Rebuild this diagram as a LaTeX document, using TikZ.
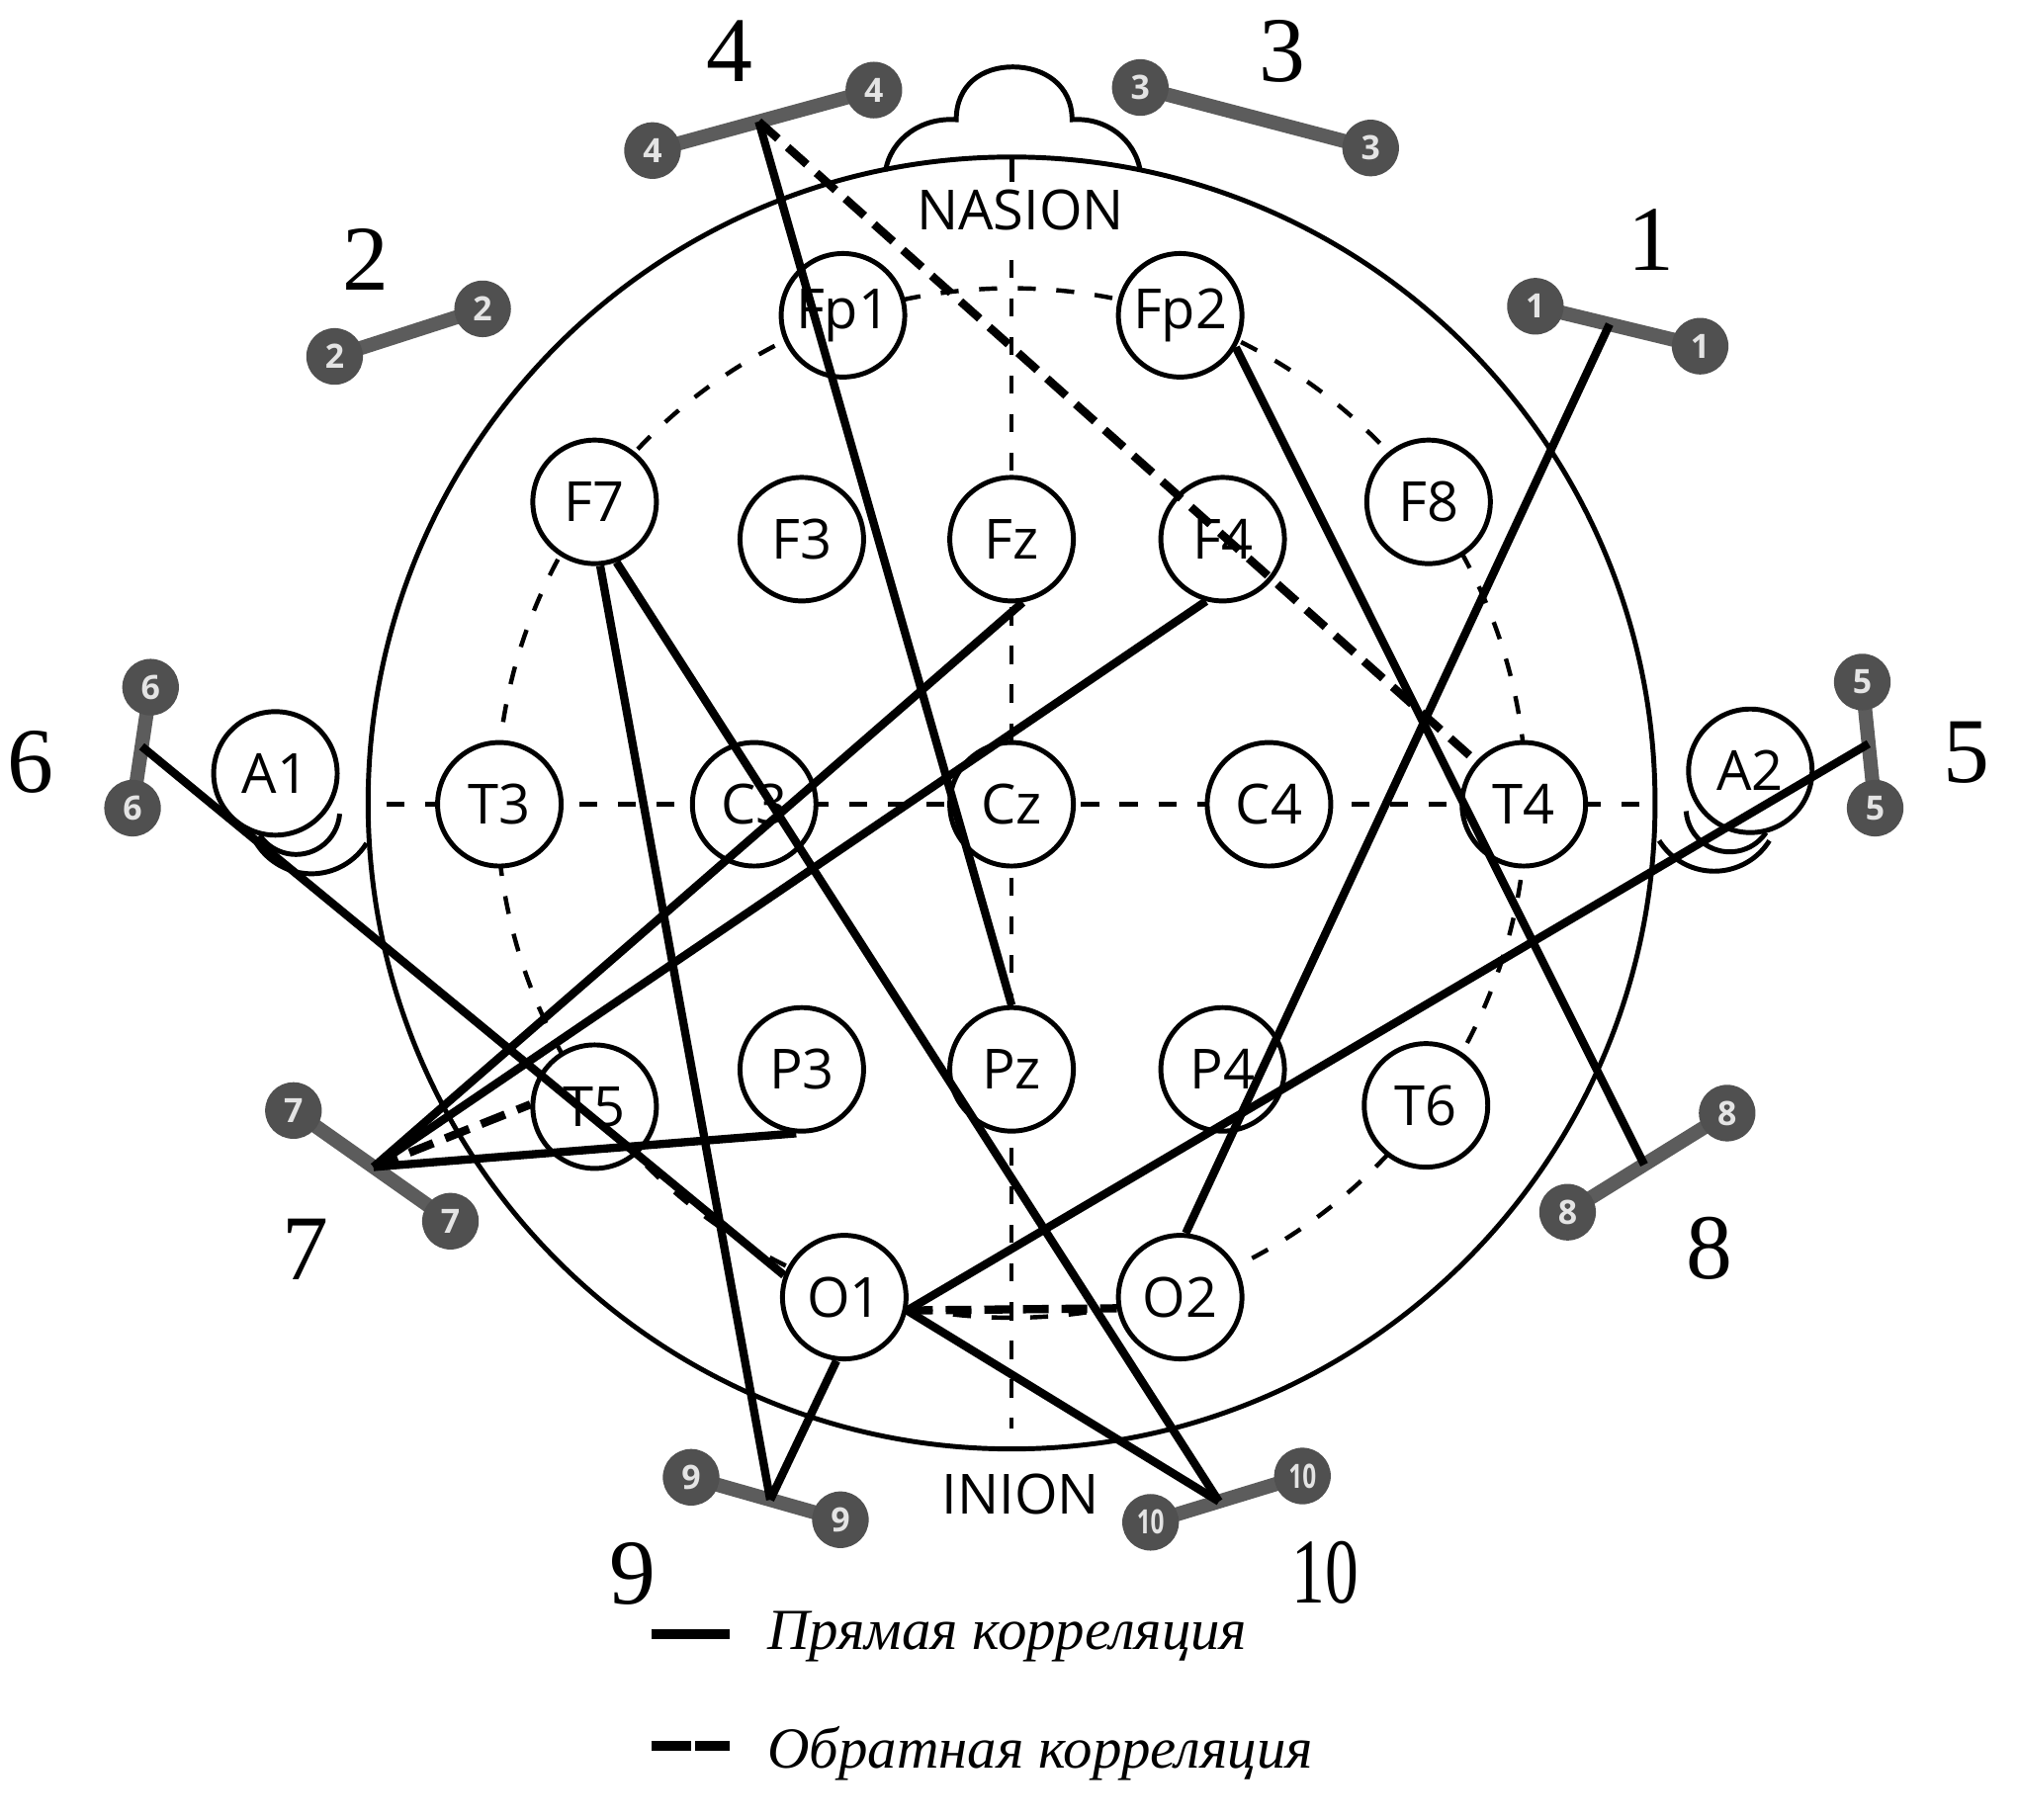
\documentclass[tikz,border=0pt]{standalone}
\usepackage{fontspec}
\setmainfont{Liberation Serif}
\newfontfamily\elfont{Open Sans}
\usetikzlibrary{calc}
\definecolor{ballgray}{HTML}{505050}
\definecolor{bargray}{HTML}{5C5C5C}
\definecolor{digitgray}{HTML}{E4E4E4}
\newcommand{\sensorpair}[6]{%
  \coordinate (#1a) at #2;
  \coordinate (#1b) at #3;
  \draw[sensorbar] (#1a) -- (#1b);
  \node[ball] (#1ba) at (#1a) {#4};
  \node[ball] (#1bb) at (#1b) {#4};
  \coordinate (#1) at ($(#1a)!#5!(#1b)$);
  \node[senslabel] (#1n) at #6 {#4};
}
\begin{document}
\begin{tikzpicture}[x=0.5pt,y=-0.5pt,
  electrode/.style={circle,draw,line width=1.9pt,fill=white,minimum size=48pt,inner sep=0pt,font=\elfont\fontsize{21.5}{21.5}\selectfont},
  headline/.style={line width=1.9pt},
  gridline/.style={line width=1.7pt,dash pattern=on 7pt off 8pt},
  poscor/.style={line width=3.2pt},
  negcor/.style={line width=3.2pt,dash pattern=on 10pt off 5pt},
  ball/.style={circle,fill=ballgray,minimum size=22pt,inner sep=0pt,text=digitgray,font=\elfont\bfseries\fontsize{13}{13}\selectfont},
  sensorbar/.style={draw=bargray,line width=5.5pt},
  senslabel/.style={font=\fontsize{36}{36}\selectfont,inner sep=0pt},
  landmark/.style={font=\elfont\fontsize{21.5}{21.5}\selectfont,inner sep=0pt},
  legendtext/.style={font=\itshape\fontsize{22.6}{22.6}\selectfont,anchor=west,inner sep=0pt}
]
\useasboundingbox (0,0) rectangle (1568,1414);
\fill[white] (0,0) rectangle (1568,1414);

% head outline
\coordinate (hc) at (786,624);
\draw[headline] (hc) circle [x radius=500, y radius=502];
% nose
\draw[headline] (688,133) .. controls (692,108) and (716,91) .. (743,93)
  .. controls (743,66) and (763,52) .. (787,52)
  .. controls (811,52) and (833,66) .. (833,93)
  .. controls (859,91) and (882,108) .. (886,133);
\draw[headline] (786,121) -- (786,141);
% ears
\draw[headline] (230,630) ++(146:34) arc[start angle=146,end angle=4,radius=34];
\draw[headline] (242,628.5) ++(148:50.5) arc[start angle=148,end angle=32,radius=50.5];
\draw[headline] (1344,628) ++(34:34) arc[start angle=34,end angle=176,radius=34];
\draw[headline] (1332,626.5) ++(32:50.5) arc[start angle=32,end angle=148,radius=50.5];

% 10-20 grid
\draw[gridline] (hc) circle [radius=400];
\draw[gridline] (786,202) -- (786,1110);
\draw[gridline] (300,625) -- (1275,625);

% electrodes
\node[electrode] (Fp1) at (655,245) {Fp1};
\node[electrode] (Fp2) at (917,245) {Fp2};
\node[electrode] (F7) at (462,390) {F7};
\node[electrode] (F3) at (623,419) {F3};
\node[electrode] (Fz) at (786,419) {Fz};
\node[electrode] (F4) at (950,419) {F4};
\node[electrode] (F8) at (1110,390) {F8};
\node[electrode] (A1) at (214,601) {A1};
\node[electrode] (T3) at (388,625) {T3};
\node[electrode] (C3) at (586,625) {C3};
\node[electrode] (Cz) at (786,625) {Cz};
\node[electrode] (C4) at (986,625) {C4};
\node[electrode] (T4) at (1184,625) {T4};
\node[electrode] (A2) at (1360,599) {A2};
\node[electrode] (T5) at (462,860) {T5};
\node[electrode] (P3) at (623,831) {P3};
\node[electrode] (Pz) at (786,831) {Pz};
\node[electrode] (P4) at (950,831) {P4};
\node[electrode] (T6) at (1108,859) {T6};
\node[electrode] (O1) at (656,1008) {O1};
\node[electrode] (O2) at (917,1008) {O2};

% landmarks
\node[landmark] (nasion) at (793,163) {NASION};
\node[landmark] (inion) at (793,1161) {INION};

% sensors
\sensorpair{s1}{(1193,238)}{(1321,269)}{1}{0.45}{(1283,186)}
\sensorpair{s2}{(260,277)}{(375,240)}{2}{0.5}{(284,202)}
\sensorpair{s3}{(886,68)}{(1065,115)}{3}{0.5}{(996,40)}
\sensorpair{s4}{(507,117)}{(679,70)}{4}{0.48}{(567,40)}
\sensorpair{s5}{(1447,530)}{(1457,628)}{5}{0.49}{(1528,585)}
\sensorpair{s6}{(117,534)}{(103,628)}{6}{0.49}{(24,592)}
\sensorpair{s7}{(228,863)}{(350,949)}{7}{0.51}{(237,971)}
\sensorpair{s8}{(1218,942)}{(1342,865)}{8}{0.48}{(1328,970)}
\sensorpair{s9}{(537,1148)}{(653,1181)}{9}{0.53}{(492,1223)}
\sensorpair{s10}{(894,1183)}{(1012,1147)}{\scalebox{0.72}[1]{10}}{0.45}{(1030,1222)}

% direct correlations
\draw[poscor] (s1) -- (O2.85);
\draw[poscor] (s4) -- (Pz.north);
\draw[poscor] (Fp2.-30) -- (s8);
\draw[poscor] (F7.-85) -- (s9);
\draw[poscor] (F7.-70) -- (s10);
\draw[poscor] (Fz.-80) -- (s7);
\draw[poscor] (F4.-105) -- (s7);
\draw[poscor] (P3.-95) -- (s7);
\draw[poscor] (s6) -- (O1.160);
\draw[poscor] (O1.-97) -- (s9);
\draw[poscor] (O1.-12) -- (s10);
\draw[poscor] (O1.-12) -- (s5);
% inverse correlations
\draw[negcor] (s4) -- (T4.138);
\draw[negcor] (s7) -- (T5.178);
\draw[negcor] (O1.-12) -- (O2.-170);

% legend
\coordinate (lg1a) at (506,1270);
\coordinate (lg1b) at (567,1270);
\coordinate (lg2a) at (506,1357);
\coordinate (lg2m) at (537,1357);
\coordinate (lg2n) at (540,1357);
\coordinate (lg2b) at (567,1357);
\draw[line width=3.8pt] (lg1a) -- (lg1b);
\draw[line width=3.8pt] (lg2a) -- (lg2m);
\draw[line width=3.8pt] (lg2n) -- (lg2b);
\node[legendtext] (leg1) at (596,1272) {Прямая корреляция};
\node[legendtext] (leg2) at (596,1363) {Обратная корреляция};
\end{tikzpicture}
\end{document}
